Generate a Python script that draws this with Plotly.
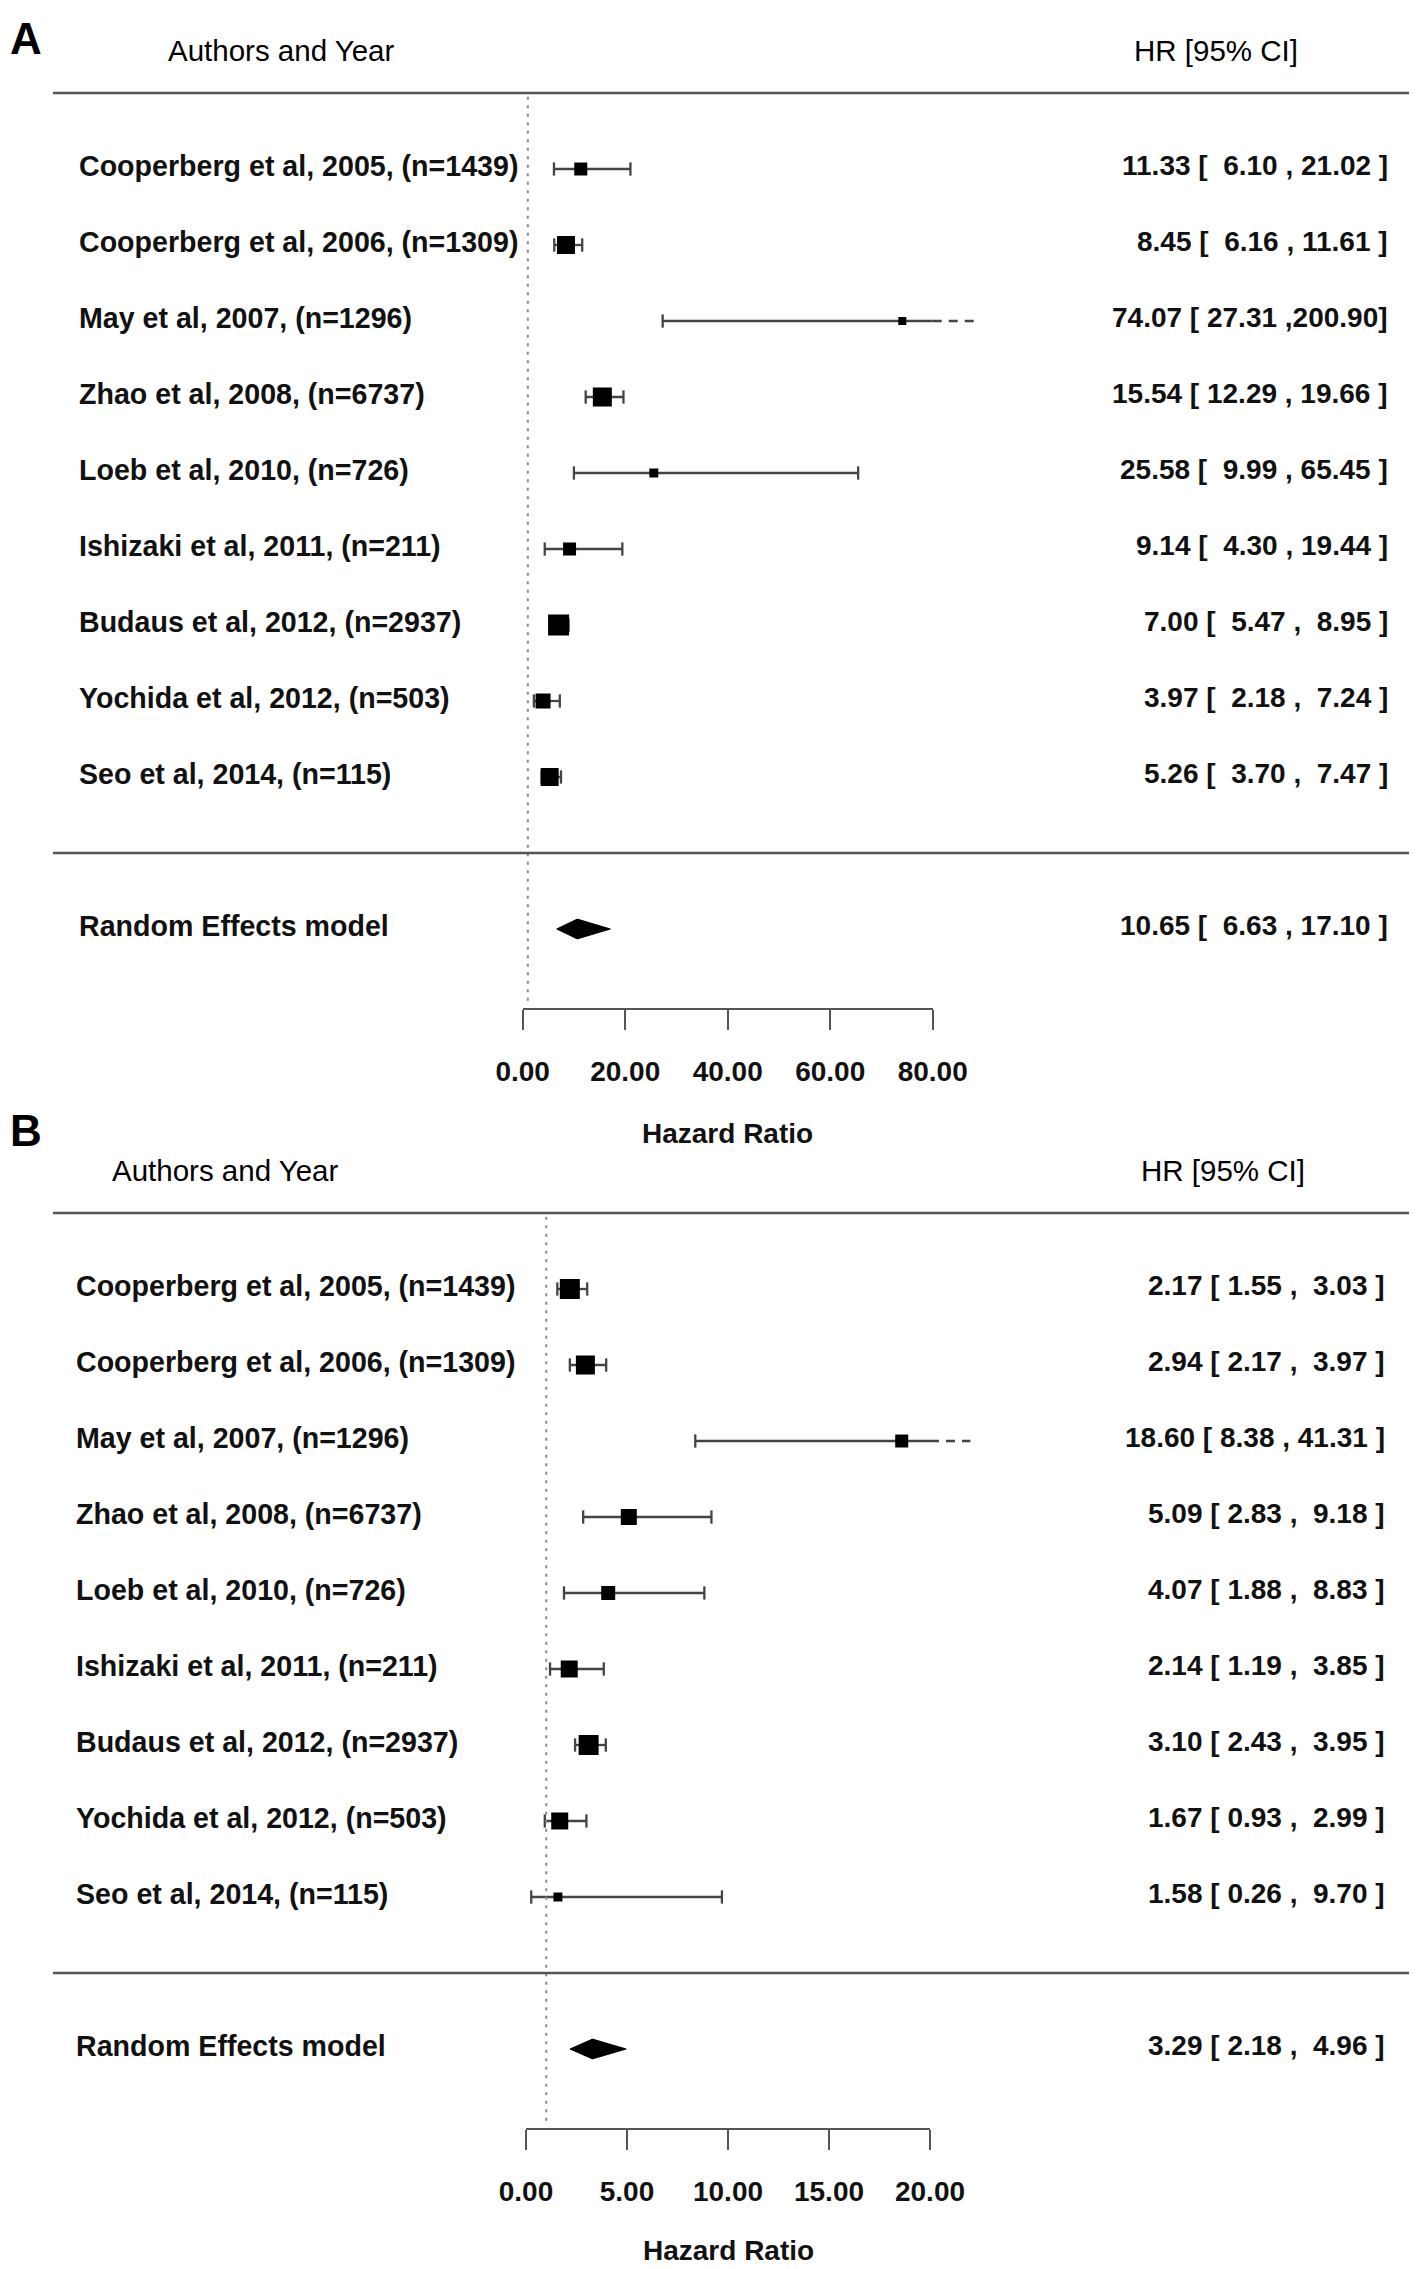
import plotly.graph_objects as go

# ---- data ---------------------------------------------------------------
STUDIES = [
    "Cooperberg et al, 2005, (n=1439)",
    "Cooperberg et al, 2006, (n=1309)",
    "May et al, 2007, (n=1296)",
    "Zhao et al, 2008, (n=6737)",
    "Loeb et al, 2010, (n=726)",
    "Ishizaki et al, 2011, (n=211)",
    "Budaus et al, 2012, (n=2937)",
    "Yochida et al, 2012, (n=503)",
    "Seo et al, 2014, (n=115)",
]
POOLED_LABEL = "Random Effects model"

# panel A
HR_A = [11.33, 8.45, 74.07, 15.54, 25.58, 9.14, 7.00, 3.97, 5.26]
LO_A = [6.10, 6.16, 27.31, 12.29, 9.99, 4.30, 5.47, 2.18, 3.70]
HI_A = [21.02, 11.61, 200.90, 19.66, 65.45, 19.44, 8.95, 7.24, 7.47]
POOLED_A = [10.65, 6.63, 17.10]
TICKS_A = [0, 20, 40, 60, 80]

# panel B
HR_B = [2.17, 2.94, 18.60, 5.09, 4.07, 2.14, 3.10, 1.67, 1.58]
LO_B = [1.55, 2.17, 8.38, 2.83, 1.88, 1.19, 2.43, 0.93, 0.26]
HI_B = [3.03, 3.97, 41.31, 9.18, 8.83, 3.85, 3.95, 2.99, 9.70]
POOLED_B = [3.29, 2.18, 4.96]
TICKS_B = [0, 5, 10, 15, 20]

# ---- style --------------------------------------------------------------
W, H = 1417, 2269
OFF = 8          # the page body margin shifts the figure by this much
ROW_PX = 76
FONT = "Liberation Sans, Arial, sans-serif"
INK = "#111111"
LINE = "#555555"
CI_COL = "#444444"

SQUARE_PX_A = [13, 18, 8, 19, 9, 13, 21, 15, 18]
SQUARE_PX_B = [20, 19, 13, 16, 14, 17, 20, 17, 9]


def px_x(p):
    return (p - OFF) / W


def px_y(p):
    return 1 - (p - OFF) / H


def ci_text(hr, lo, hi, lo_width):
    close = " ]" if hi < 100 else "]"
    s = f"{hr:.2f} [{lo:{lo_width}.2f} ,{hi:6.2f}{close}"
    return s.replace(" ", "\u00a0")


def add_panel(fig, n, letter, hr, lo, hi, pooled, ticks, sizes,
              first_row_px, tick_px, label_px, value_px, head_px, letter_px, title_px):
    xd = "x" if n == 1 else "x3"
    xt = "x2" if n == 1 else "x4"
    yy = "y" if n == 1 else "y2"
    k_axis = 11.04
    axis_px = first_row_px + k_axis * ROW_PX
    top_px = first_row_px - 161
    k_top = (top_px - first_row_px) / ROW_PX

    amin, amax = ticks[0], ticks[-1]
    d0, d1 = px_x(tick_px[0]), px_x(tick_px[1])
    span = (amax - amin) / (d1 - d0)
    full_range = [amin - d0 * span, amax + (1 - d1) * span]
    dash_end = amax * 1.1

    rows = list(range(len(hr)))
    pooled_row = len(hr) + 1

    # CI lines (clipped at axis max), overflow drawn dashed
    cx, cy, ox, oy, capx, capy = [], [], [], [], [], []
    for k, l, h in zip(rows, lo, hi):
        cx += [l, min(h, amax), None]
        cy += [k, k, None]
        capx.append(l)
        capy.append(k)
        if h > amax:
            ox += [amax, dash_end, None]
            oy += [k, k, None]
        else:
            capx.append(h)
            capy.append(k)

    fig.add_trace(go.Scatter(x=cx, y=cy, mode="lines", xaxis=xd, yaxis=yy,
                             line=dict(color=CI_COL, width=2.3), hoverinfo="skip"))
    if ox:
        fig.add_trace(go.Scatter(x=ox, y=oy, mode="lines", xaxis=xd, yaxis=yy,
                                 line=dict(color=CI_COL, width=2.3, dash="9px,7px"),
                                 hoverinfo="skip"))
    fig.add_trace(go.Scatter(x=capx, y=capy, mode="markers", xaxis=xd, yaxis=yy,
                             marker=dict(symbol="line-ns", size=9.5, opacity=1,
                                         line=dict(color=CI_COL, width=2.3)),
                             hoverinfo="skip"))
    fig.add_trace(go.Scatter(x=hr, y=rows, mode="markers", xaxis=xd, yaxis=yy,
                             marker=dict(symbol="square", size=sizes, color="black",
                                         opacity=1, line=dict(width=0)),
                             hoverinfo="skip"))

    # pooled diamond
    est, plo, phi = pooled
    hh = 0.13
    fig.add_trace(go.Scatter(x=[plo, est, phi, est, plo],
                             y=[pooled_row, pooled_row - hh, pooled_row, pooled_row + hh, pooled_row],
                             mode="lines", fill="toself", fillcolor="black",
                             line=dict(color="black", width=1), xaxis=xd, yaxis=yy,
                             hoverinfo="skip"))
    # empty trace so the tick axis is drawn
    fig.add_trace(go.Scatter(x=[], y=[], xaxis=xt, yaxis=yy, hoverinfo="skip"))

    ykey = "yaxis" if n == 1 else "yaxis2"
    fig.layout[ykey] = dict(domain=[px_y(axis_px), min(1, px_y(top_px))],
                            range=[k_axis, k_top],
                            visible=False, fixedrange=True, automargin=False)
    fig.layout["xaxis" if n == 1 else "xaxis3"] = dict(
        domain=[0, 1], range=full_range, visible=False, anchor=yy, fixedrange=True,
        automargin=False)
    fig.layout["xaxis2" if n == 1 else "xaxis4"] = dict(
        domain=[d0, d1], range=[amin, amax], anchor=yy, tickvals=ticks,
        tickformat=".2f", ticks="outside", ticklen=20, tickwidth=2,
        tickcolor=LINE, showline=True, linecolor=LINE, linewidth=2,
        showgrid=False, zeroline=False, fixedrange=True, automargin=False,
        ticklabelstandoff=17,
        tickfont=dict(family=FONT, size=28, color=INK, weight="bold"))

    # reference line at HR = 1
    fig.add_shape(type="line", xref=xd, yref=yy, x0=1, x1=1, y0=-0.95, y1=k_axis - 0.05,
                  line=dict(color="#8a8a8a", width=2, dash="3px,5.5px"))
    # header rule and separator
    for k in (-1, len(hr)):
        fig.add_shape(type="line", xref="paper", yref=yy, x0=px_x(53), x1=px_x(1411),
                      y0=k, y1=k, line=dict(color=LINE, width=2.5))

    lab_font = dict(family=FONT, size=28.6, color=INK, weight="bold")
    val_font = dict(family=FONT, size=28, color=INK, weight="bold")
    head_font = dict(family=FONT, size=29.5, color="#000000")
    texts = STUDIES + [POOLED_LABEL]
    krows = rows + [pooled_row]
    lo_w = max(len(f"{v:.2f}") for v in lo) + 1
    vals = [ci_text(a, b, c, lo_w) for a, b, c in zip(hr, lo, hi)]
    vals.append(ci_text(est, plo, phi, lo_w))
    for t, v, k in zip(texts, vals, krows):
        fig.add_annotation(text=t, xref="paper", yref=yy, x=px_x(label_px), y=k - 0.04,
                           xanchor="left", yanchor="middle", showarrow=False, font=lab_font)
        fig.add_annotation(text=v, xref="paper", yref=yy, x=px_x(value_px), y=k - 0.04,
                           xanchor="right", yanchor="middle", showarrow=False, font=val_font)

    head_y = px_y(first_row_px - 1.56 * ROW_PX)
    fig.add_annotation(text="Authors and Year", xref="paper", yref="paper", x=px_x(head_px[0]),
                       y=head_y, xanchor="center", yanchor="middle", showarrow=False,
                       font=head_font)
    fig.add_annotation(text="HR [95% CI]", xref="paper", yref="paper", x=px_x(head_px[1]),
                       y=head_y, xanchor="center", yanchor="middle", showarrow=False,
                       font=head_font)
    fig.add_annotation(text="Hazard Ratio", xref="paper", yref="paper",
                       x=px_x((tick_px[0] + tick_px[1]) / 2), y=px_y(title_px),
                       xanchor="center", yanchor="middle", showarrow=False,
                       font=dict(family=FONT, size=28, color=INK, weight="bold"))
    fig.add_annotation(text=letter, xref="paper", yref="paper", x=px_x(letter_px[0]),
                       y=px_y(letter_px[1]), xanchor="left", yanchor="middle",
                       showarrow=False,
                       font=dict(family=FONT, size=44, color="black", weight="bold"))


fig = go.Figure()
add_panel(fig, 1, "A", HR_A, LO_A, HI_A, POOLED_A, TICKS_A, SQUARE_PX_A,
          first_row_px=169, tick_px=(522.7, 932.7), label_px=77, value_px=1390,
          head_px=(281, 1216), letter_px=(8, 38), title_px=1134)
add_panel(fig, 2, "B", HR_B, LO_B, HI_B, POOLED_B, TICKS_B, SQUARE_PX_B,
          first_row_px=1289, tick_px=(526, 930), label_px=74, value_px=1387,
          head_px=(225, 1223), letter_px=(8, 1130), title_px=2250)

fig.update_layout(
    width=W, height=H,
    margin=dict(l=0, r=0, t=0, b=0, pad=0, autoexpand=False),
    paper_bgcolor="white", plot_bgcolor="rgba(0,0,0,0)",
    showlegend=False,
    font=dict(family=FONT, color=INK),
)

fig.write_html("out.html")
